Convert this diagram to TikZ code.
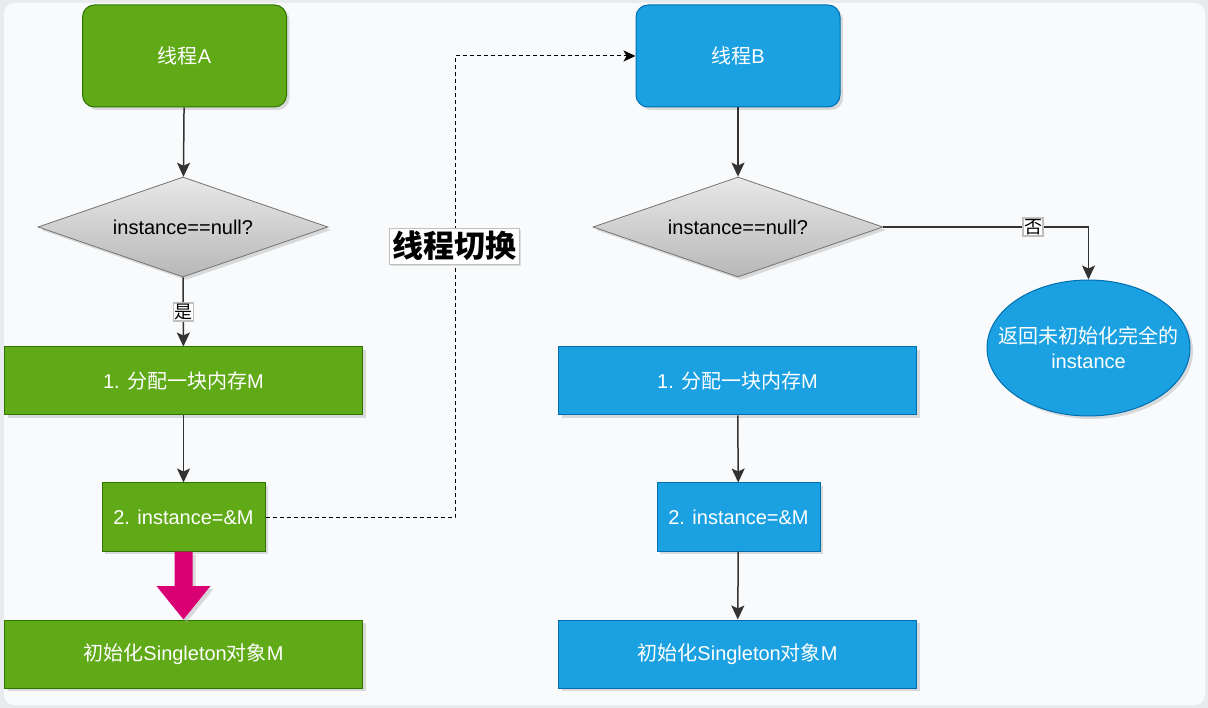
\documentclass[tikz,border=0pt]{standalone}
\usepackage{fontspec}
\setmainfont{Liberation Sans}
\newfontfamily\cjk{Noto Sans CJK SC}
\usetikzlibrary{shapes.geometric, arrows.meta, shadows}
\newcommand{\zh}[1]{{\cjk #1}}
\definecolor{boxgreen}{HTML}{60A917}
\definecolor{linegreen}{HTML}{2D7600}
\definecolor{boxblue}{HTML}{1BA1E2}
\definecolor{lineblue}{HTML}{006EAF}
\definecolor{bigarrow}{HTML}{D80073}
\definecolor{wire}{HTML}{333333}
\tikzset{
  flow box/.style={
    draw,
    line width=1pt,
    text=white,
    align=center,
    font=\fontsize{20}{25}\selectfont,
    drop shadow={shadow xshift=3pt, shadow yshift=-3pt, fill=black!30, opacity=.45},
  },
  green box/.style={flow box, fill=boxgreen, draw=linegreen},
  blue box/.style={flow box, fill=boxblue, draw=lineblue},
  thread box/.style={rounded corners=12pt, minimum width=204pt, minimum height=102pt},
  wide box/.style={minimum width=358pt, minimum height=68pt},
  small box/.style={minimum width=163pt, minimum height=68pt},
  decision/.style={
    diamond, aspect=2.9, draw=black!55, line width=.8pt,
    top color=black!9, bottom color=black!28,
    minimum width=290pt, minimum height=100pt, inner sep=0pt,
    font=\fontsize{20}{25}\selectfont,
    drop shadow={shadow xshift=3pt, shadow yshift=-3pt, fill=black!30, opacity=.45},
  },
  flow arrow/.style={draw=wire, line width=1.5pt, -{Stealth[length=14pt, width=13pt, inset=3pt]}},
  branch label/.style={fill=white, draw=black!25, inner sep=1pt, font=\cjk\fontsize{18}{18}\selectfont},
}

\begin{document}
\begin{tikzpicture}[x=1pt, y=-1pt]
  % background
  \fill[color={rgb,255:red,232;green,235;blue,238}] (0,0) rectangle (1208,708);
  \fill[color={rgb,255:red,249;green,250;blue,251}, rounded corners=10pt] (4,3) rectangle (1205,705);

  % thread A
  \node[green box, thread box] (ta) at (184.5,56) {\zh{线程}A};
  \node[decision] (qa) at (183,227) {instance==null?};
  \node[green box, wide box] (a1) at (183.5,381) {1. \zh{分配一块内存}M};
  \node[green box, small box] (a2) at (183.5,517) {2. instance=\&M};
  \node[green box, wide box] (a3) at (183.5,654) {\zh{初始化}Singleton\zh{对象}M};

  % thread B
  \node[blue box, thread box] (tb) at (738,56) {\zh{线程}B};
  \node[decision] (qb) at (738,227) {instance==null?};
  \node[blue box, ellipse, minimum width=203pt, minimum height=136pt, inner xsep=-20pt, inner ysep=0pt] (ret) at (1088.5,348) {\zh{返回未初始化完全的}\\instance};
  \node[blue box, wide box] (b1) at (737.5,381) {1. \zh{分配一块内存}M};
  \node[blue box, small box] (b2) at (738.5,517) {2. instance=\&M};
  \node[blue box, wide box] (b3) at (737.5,654) {\zh{初始化}Singleton\zh{对象}M};

  \draw[flow arrow] (ta) -- (qa);
  \draw[flow arrow] (qa) -- node[branch label] {是} (a1);
  \draw[flow arrow] (a1) -- (a2);

  \draw[flow arrow] (tb) -- (qb);
  \draw[flow arrow] (qb.east) -- node[pos=.73, branch label] {否} (ret.north |- qb.east) -- (ret.north);
  \draw[flow arrow] (b1) -- (b2);
  \draw[flow arrow] (b2) -- (b3);

  % switch
  \coordinate (sw) at (455,517);
  \draw[draw=black, line width=1pt, dashed, dash pattern=on 4pt off 3pt, -{Stealth[length=12pt, width=11pt, inset=3pt]}]
    (a2.east) -- (sw) -- (sw |- tb.west) -- (tb.west);
  \node[fill=white, draw=black!25, inner sep=3pt, font=\cjk\bfseries\fontsize{31}{31}\selectfont,
        drop shadow={shadow xshift=2pt, shadow yshift=-2pt, fill=black!30, opacity=.4}] (swl) at (454,246) {线程切换};

  % big arrow
  \fill[bigarrow, drop shadow={shadow xshift=3pt, shadow yshift=-3pt, fill=black!30, opacity=.45}]
    ([xshift=-9pt]a2.south) -- ([xshift=9pt]a2.south) -- ([xshift=9pt]a2.south |- 0,586)
    -- ([xshift=27pt]a2.south |- 0,586) -- (a3.north) -- ([xshift=-27pt]a2.south |- 0,586)
    -- ([xshift=-9pt]a2.south |- 0,586) -- cycle;
\end{tikzpicture}
\end{document}
